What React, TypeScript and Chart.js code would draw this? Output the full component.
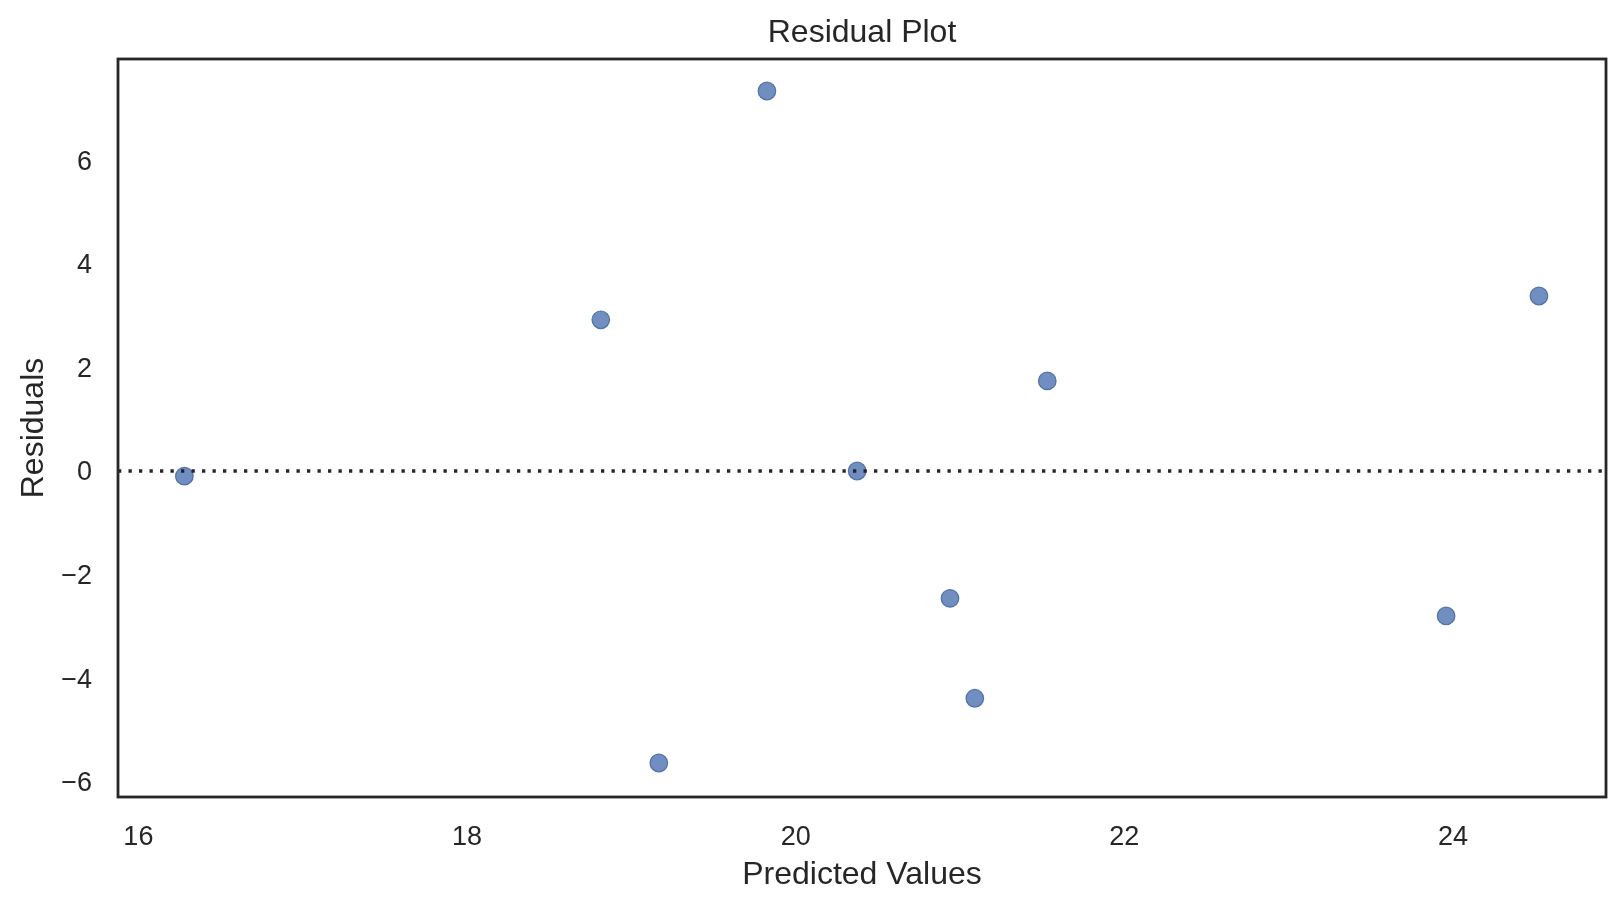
import React, { useEffect, useRef } from "react";
import { Chart, registerables } from "chart.js";

Chart.register(...registerables);

const predicted = [16.28, 18.814, 19.167, 19.825, 20.374, 20.939, 21.09, 21.531, 23.958, 24.523];
const residuals = [-0.1, 2.92, -5.64, 7.34, 0.0, -2.46, -4.39, 1.74, -2.8, 3.38];
const xTicks = [16, 18, 20, 22, 24];
const yTicks = [-6, -4, -2, 0, 2, 4, 6];
const xRange = [15.876, 24.931];
const yRange = [-6.297, 7.958];
const zeroLineValue = 0;
const chartTitle = "Residual Plot";

const TEXT = "#262626";
const FONT = "'Liberation Sans', Arial, sans-serif";

const framePlugin = {
  id: "frameAndZero",
  afterDatasetsDraw(chart: any) {
    const { ctx, chartArea, scales } = chart;
    ctx.save();
    const y0 = scales.y.getPixelForValue(zeroLineValue);
    ctx.strokeStyle = TEXT;
    ctx.lineWidth = 3.3;
    ctx.setLineDash([3.3, 7.2]);
    ctx.beginPath();
    ctx.moveTo(chartArea.left, y0);
    ctx.lineTo(chartArea.right, y0);
    ctx.stroke();
    ctx.restore();
  },
  afterDraw(chart: any) {
    const { ctx, chartArea } = chart;
    ctx.save();
    ctx.strokeStyle = TEXT;
    ctx.lineWidth = 2.8;
    ctx.strokeRect(
      chartArea.left,
      chartArea.top,
      chartArea.right - chartArea.left,
      chartArea.bottom - chartArea.top
    );
    ctx.fillStyle = TEXT;
    ctx.font = `32px ${FONT}`;
    ctx.textAlign = "center";
    ctx.textBaseline = "middle";
    ctx.fillText(chartTitle, (chartArea.left + chartArea.right) / 2, 33);
    ctx.restore();
  },
};

const fmt = (v: number) => (v < 0 ? "\u2212" + Math.abs(v) : String(v));

export default function App() {
  const ref = useRef<HTMLCanvasElement | null>(null);

  useEffect(() => {
    if (!ref.current) return;
    const chart = new Chart(ref.current, {
      type: "scatter",
      data: {
        datasets: [
          {
            data: predicted.map((x, i) => ({ x, y: residuals[i] })),
            backgroundColor: "rgba(76,114,176,0.8)",
            borderColor: "rgba(66,100,160,0.85)",
            borderWidth: 1.2,
            pointRadius: 8.8,
            pointHoverRadius: 8.8,
          },
        ],
      },
      options: {
        responsive: false,
        animation: false,
        devicePixelRatio: 1,
        layout: { padding: { left: 0, right: 18, top: 59, bottom: 0 } },
        plugins: {
          legend: { display: false },
          tooltip: { enabled: false },
          title: { display: false },
        },
        scales: {
          x: {
            type: "linear",
            min: xRange[0],
            max: xRange[1],
            afterBuildTicks: (s: any) => {
              s.ticks = xTicks.map((v) => ({ value: v }));
            },
            afterFit: (s: any) => {
              s.height = 112;
            },
            grid: { display: false, drawTicks: false, tickLength: 0 },
            border: { display: false },
            ticks: {
              color: TEXT,
              font: { family: FONT, size: 27, lineHeight: 1.2 },
              padding: 24,
              maxRotation: 0,
              autoSkip: false,
              callback: (v: any) => fmt(Number(v)),
            },
            title: {
              display: true,
              text: "Predicted Values",
              color: TEXT,
              font: { family: FONT, size: 32, lineHeight: 1.2 },
              padding: { top: 0, bottom: 15 },
            },
          },
          y: {
            type: "linear",
            min: yRange[0],
            max: yRange[1],
            afterBuildTicks: (s: any) => {
              s.ticks = yTicks.map((v) => ({ value: v }));
            },
            afterFit: (s: any) => {
              s.width = 118;
            },
            grid: { display: false, drawTicks: false, tickLength: 0 },
            border: { display: false },
            ticks: {
              color: TEXT,
              font: { family: FONT, size: 27, lineHeight: 1.2 },
              padding: 26,
              labelOffset: 2,
              autoSkip: false,
              callback: (v: any) => fmt(Number(v)),
            },
            title: {
              display: true,
              text: "Residuals",
              color: TEXT,
              font: { family: FONT, size: 32, lineHeight: 1.2 },
              padding: { top: 15, bottom: 0 },
            },
          },
        },
      },
      plugins: [framePlugin],
    } as any);
    return () => chart.destroy();
  }, []);

  return (
    <div style={{ position: "absolute", left: 0, top: 0, width: 1624, height: 909, background: "#fff" }}>
      <canvas ref={ref} width={1624} height={909} style={{ display: "block" }} />
    </div>
  );
}
